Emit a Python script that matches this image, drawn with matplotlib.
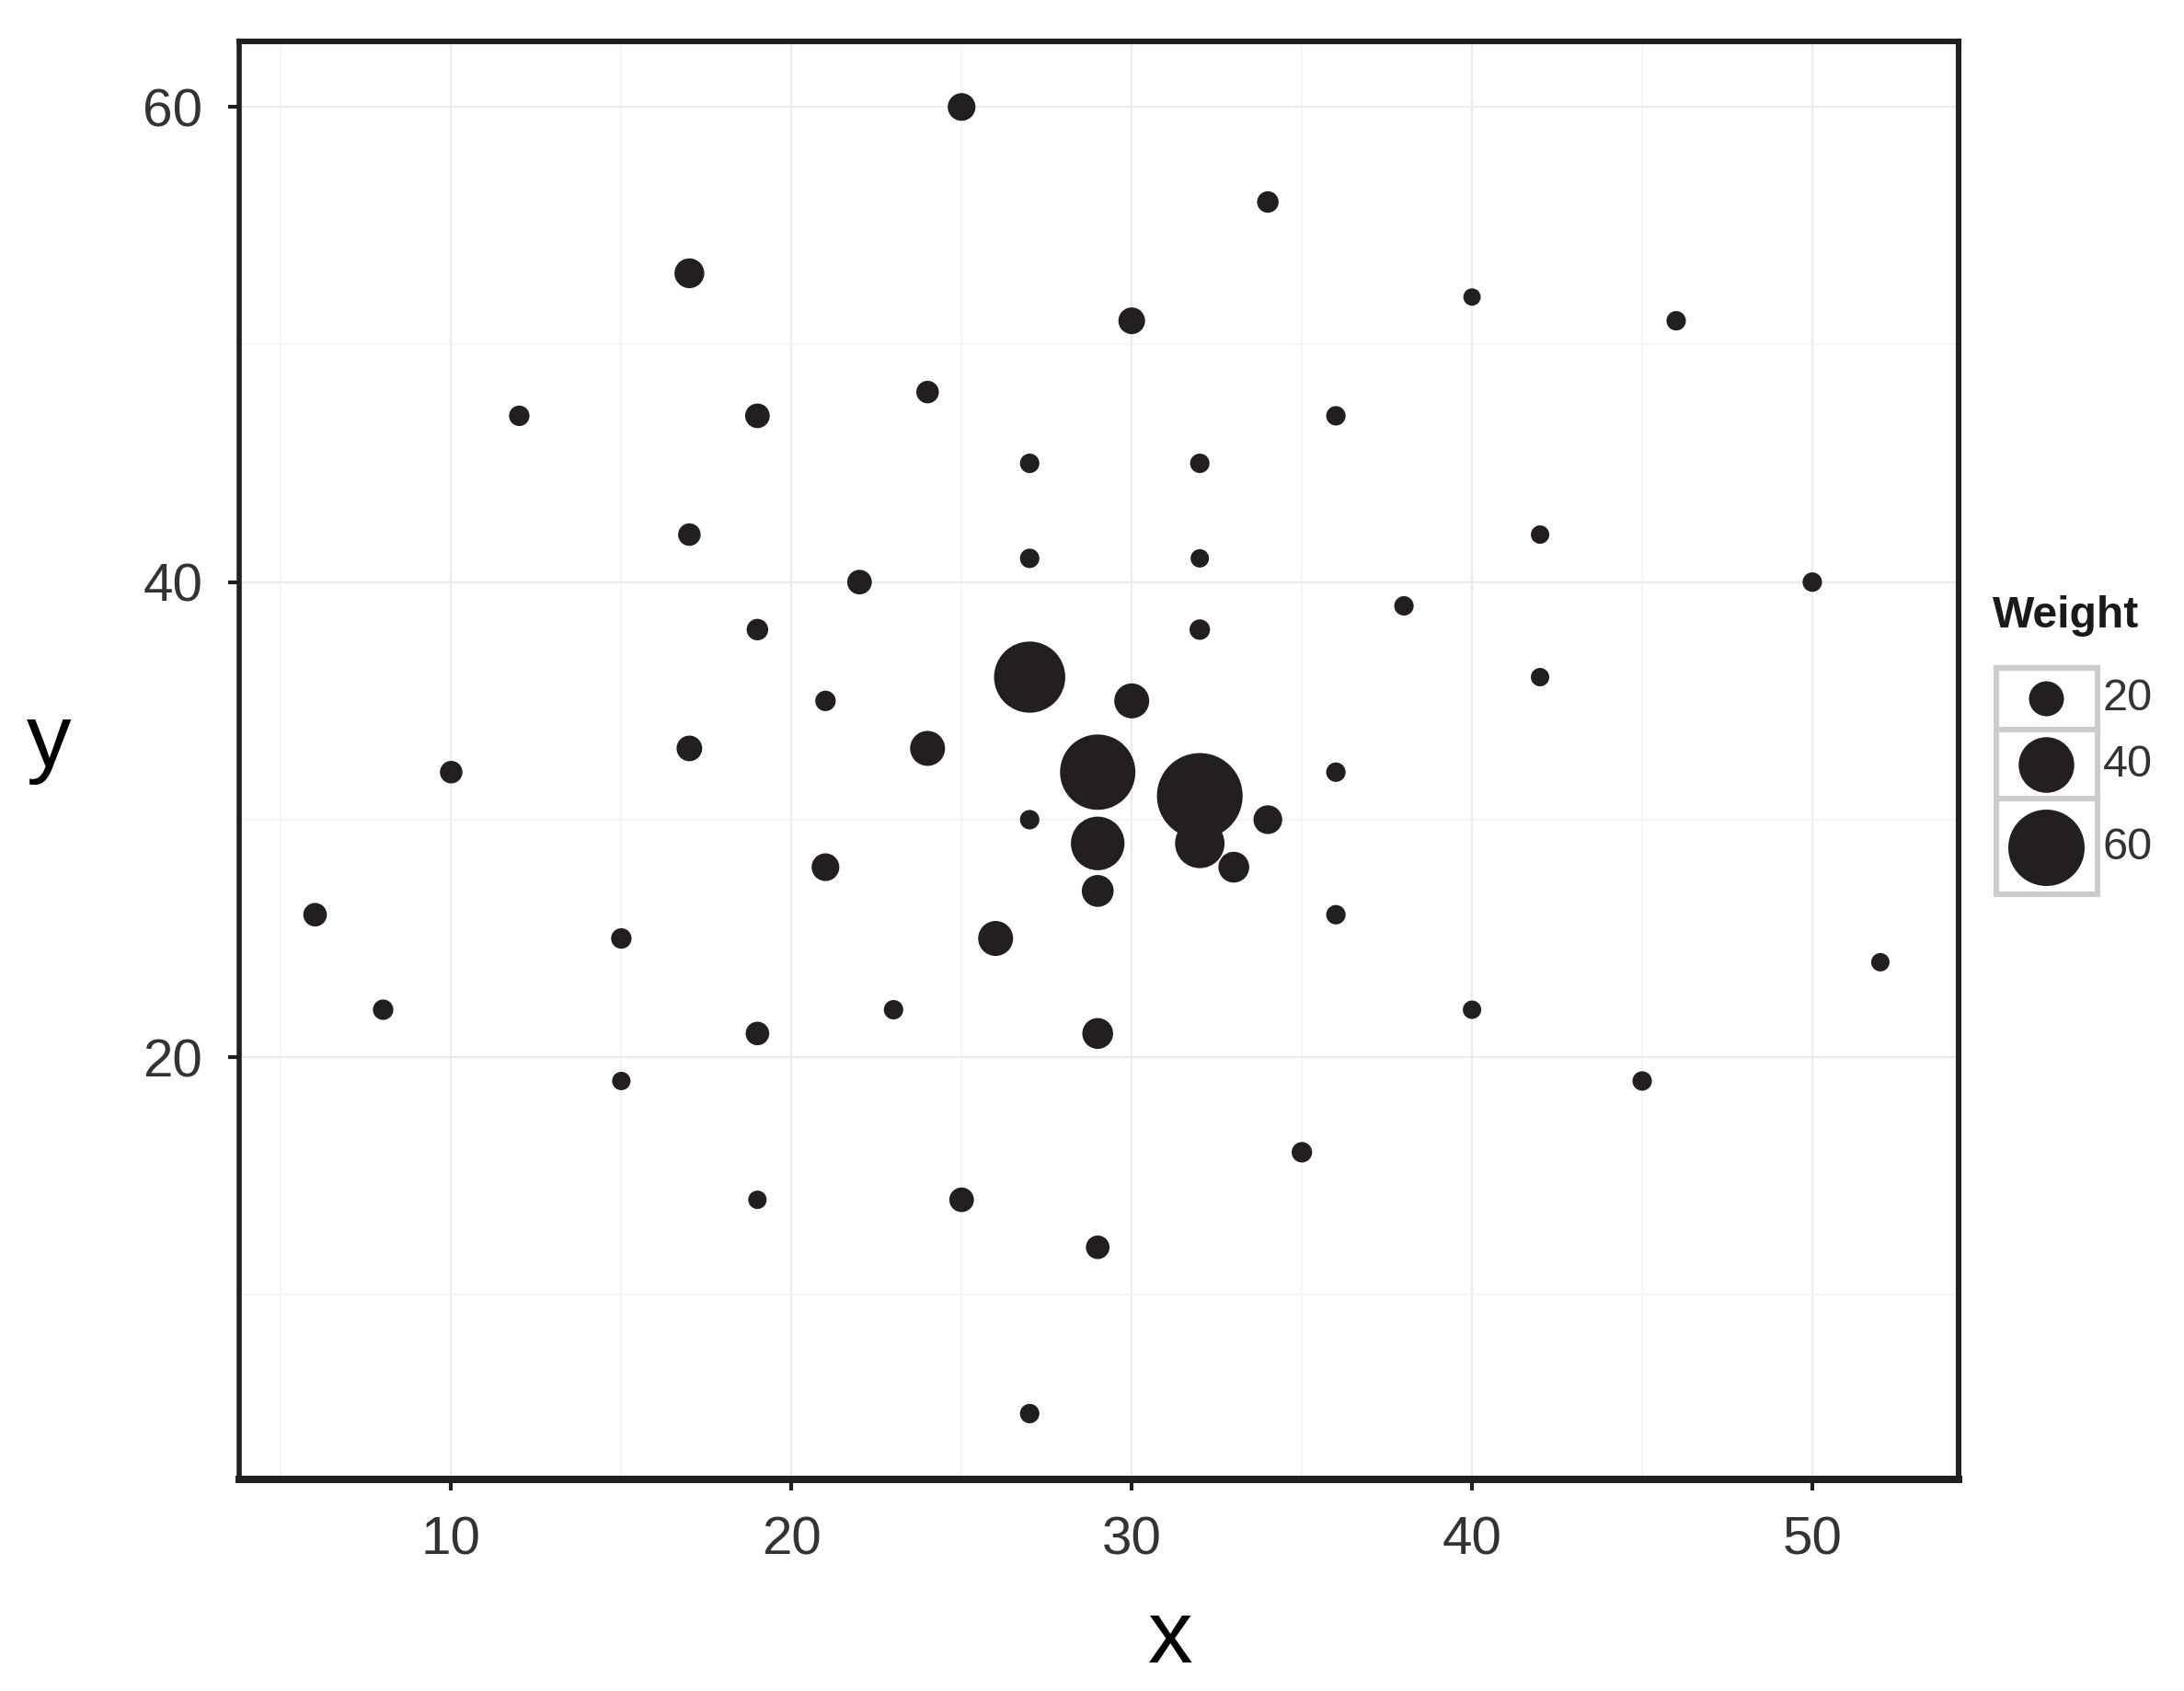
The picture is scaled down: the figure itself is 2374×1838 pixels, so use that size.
import matplotlib
matplotlib.use("Agg")
import matplotlib.pyplot as plt
from matplotlib.patches import Rectangle
import numpy as np

# ---- data ----
x_vals = [25, 34, 17, 40, 46, 30, 12, 19, 36, 24, 27, 32, 17, 42, 27, 32, 22, 50, 38, 19,
          32, 27, 42, 21, 30, 24, 17, 10, 29, 36, 32, 27, 34, 29, 32, 21, 33, 29, 6, 36,
          15, 26, 52, 8, 23, 40, 19, 29, 15, 45, 35, 19, 25, 29, 27]
y_vals = [60, 56, 53, 52, 51, 51, 47, 47, 47, 48, 45, 45, 42, 42, 41, 41, 40, 40, 39, 38,
          38, 36, 36, 35, 35, 33, 33, 32, 32, 32, 31, 30, 30, 29, 29, 28, 28, 27, 26, 26,
          25, 25, 24, 22, 22, 22, 21, 21, 19, 19, 16, 14, 14, 12, 5]
weights = [13, 7, 15, 3, 5, 12, 6, 10, 5, 8, 5, 5, 8, 4, 5, 4, 10, 5, 5, 7,
           6, 55, 4, 6, 20, 20, 11, 8, 59, 5, 69, 5, 14, 38, 34, 13, 16, 17, 9, 5,
           6, 20, 4, 6, 5, 4, 9, 16, 4, 5, 6, 4, 10, 9, 5]
legend_weights = [20, 40, 60]
x_ticks = [10, 20, 30, 40, 50]
y_ticks = [20, 40, 60]

W, H, DPI = 2374, 1838, 200
INK = "#231f20"


def size_of(w):
    d_px = 15.5 + 1.125 * np.asarray(w, dtype=float)
    return (d_px * 72.0 / DPI) ** 2


plt.rcParams["font.family"] = ["Liberation Sans", "DejaVu Sans"]

fig = plt.figure(figsize=(W / DPI, H / DPI), dpi=DPI)
fig.patch.set_facecolor("white")


def fx(px):
    return px / W


def fy(py):
    return 1 - py / H


ax = fig.add_axes([fx(260), fy(1608), fx(2129) - fx(260), fy(45) - fy(1608)])
ax.set_xlim(3.77, 54.3)
ax.set_ylim(2.23, 62.76)

ax.set_xticks(x_ticks)
ax.set_yticks(y_ticks)
ax.set_xticks([5, 15, 25, 35, 45], minor=True)
ax.set_yticks([10, 30, 50], minor=True)
ax.grid(which="major", color="#ebebeb", linewidth=0.8)
ax.grid(which="minor", color="#f4f4f4", linewidth=0.6)
ax.set_axisbelow(True)

ax.scatter(x_vals, y_vals, s=size_of(weights), color=INK, linewidths=0, zorder=3)

for side, lw in [("left", 2.0), ("right", 2.2), ("top", 2.2), ("bottom", 2.9)]:
    ax.spines[side].set_linewidth(lw)
    ax.spines[side].set_color(INK)

ax.tick_params(which="major", direction="out", length=4.3, width=1.5, color=INK,
               pad=10.0, labelsize=21, labelcolor="#333333")
ax.tick_params(which="minor", length=0)

fig.text(fx(1272), fy(1782), "x", fontsize=35, color="black", ha="center", va="center")
fig.text(fx(53), fy(808), "y", fontsize=35, color="black", ha="center", va="center")

# ---- legend ----
lax = fig.add_axes([0, 0, 1, 1], facecolor="none")
lax.set_xlim(0, W)
lax.set_ylim(H, 0)
lax.axis("off")

lax.text(2166, 670, "Weight", fontsize=17.3, fontweight="bold", color="#1a1a1a",
         ha="left", va="center")
box_tops = [726, 793, 868]
box_bots = [793, 868, 972]
centers = [759, 831, 921]
for w, t, b, c in zip(legend_weights, box_tops, box_bots, centers):
    lax.add_patch(Rectangle((2170, t), 110, b - t, facecolor="white",
                            edgecolor="#cccccc", linewidth=2.2, zorder=1))
    lax.scatter([2224], [c], s=size_of([w]), color=INK, linewidths=0, zorder=3)
    lax.text(2286, c, str(w), fontsize=17.5, color="#333333", ha="left", va="center")

fig.savefig("out.png", dpi=DPI, facecolor="white")
